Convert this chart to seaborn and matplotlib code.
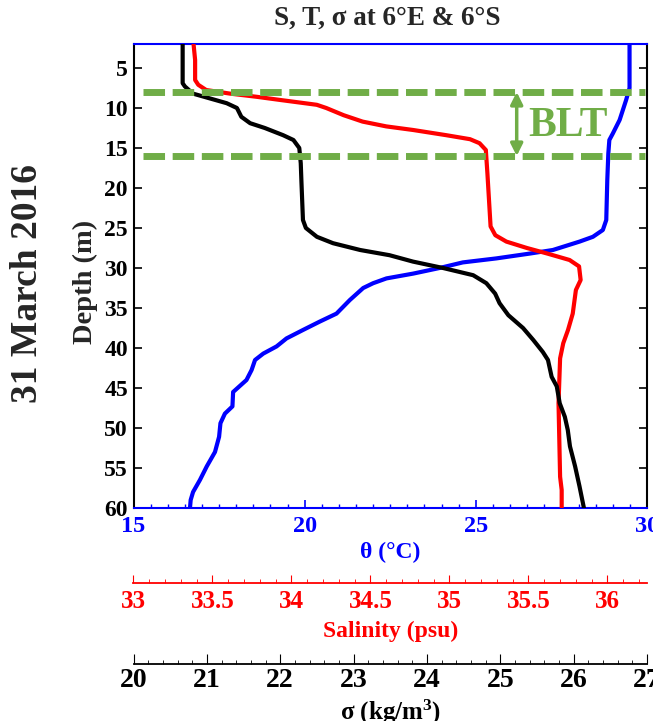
import numpy as np
import pandas as pd
import matplotlib
matplotlib.use("Agg")
import matplotlib.pyplot as plt
import seaborn as sns

# ---------------- data ----------------
depth_T = [2, 7.5, 9.0, 11.5, 13.2, 14.0, 15.7, 19.0, 24.0, 25.25, 26.1, 26.7, 27.75,
           28.2, 28.8, 29.3, 30.0, 30.7, 31.3, 31.9, 32.5, 34.0, 35.7, 36.7, 37.75,
           38.8, 39.8, 40.7, 41.5, 42.75, 44.0, 45.5, 47.3, 48.2, 49.4, 51.1, 53.0,
           54.8, 56.5, 58.0, 59.0, 60]
temperature = [29.49, 29.49, 29.39, 29.20, 29.00, 28.90, 28.87, 28.84, 28.81, 28.71,
               28.42, 28.03, 27.25, 26.57, 25.60, 24.62, 23.94, 23.17, 22.39, 22.00,
               21.71, 21.32, 20.93, 20.44, 19.95, 19.47, 19.18, 18.79, 18.55, 18.45,
               18.30, 17.91, 17.89, 17.67, 17.54, 17.50, 17.38, 17.14, 16.94, 16.74,
               16.67, 16.65]

depth_S = [2, 4, 6.5, 7.1, 7.75, 8.2, 8.6, 9.0, 9.6, 10.0, 10.9, 11.7, 12.3, 12.75,
           13.4, 13.9, 14.4, 15.25, 18.2, 21.5, 24.8, 25.9, 26.7, 27.5, 28.2, 29.0,
           29.8, 31.5, 32.75, 35.7, 37.75, 39.4, 41.3, 46.9, 56.1, 57.75, 60]
salinity = [33.38, 33.39, 33.39, 33.41, 33.46, 33.61, 33.78, 33.93, 34.16, 34.22,
            34.33, 34.45, 34.60, 34.77, 34.98, 35.13, 35.19, 35.23, 35.24, 35.25,
            35.26, 35.29, 35.36, 35.49, 35.62, 35.76, 35.82, 35.83, 35.80, 35.78,
            35.75, 35.72, 35.70, 35.69, 35.70, 35.71, 35.71]

depth_sig = [2, 6.9, 7.3, 8.2, 8.8, 9.4, 10.0, 11.1, 11.9, 12.5, 13.4, 14.0, 15.0,
             16.9, 19.4, 24.0, 25.0, 26.1, 26.9, 27.75, 28.4, 29.2, 30.0, 30.9, 31.9,
             33.2, 34.4, 35.9, 37.5, 39.0, 40.5, 41.5, 43.6, 44.8, 46.9, 48.6, 50.25,
             52.3, 54.8, 57.3, 60]
sigma = [20.67, 20.67, 20.70, 20.81, 21.04, 21.27, 21.41, 21.47, 21.59, 21.79, 22.04,
         22.18, 22.26, 22.28, 22.29, 22.31, 22.35, 22.50, 22.72, 23.09, 23.49, 23.81,
         24.22, 24.63, 24.81, 24.93, 24.99, 25.11, 25.31, 25.45, 25.58, 25.65, 25.70,
         25.77, 25.81, 25.88, 25.92, 25.95, 26.02, 26.08, 26.14]

blt_depths = [8, 16]
depth_ticks = list(range(5, 61, 5))
temp_ticks = [15, 20, 25, 30]
sal_ticks = [33, 33.5, 34, 34.5, 35, 35.5, 36]
sal_ticklabels = ["33", "33.5", "34", "34.5", "35", "35.5", "36"]
sig_ticks = [20, 21, 22, 23, 24, 25, 26, 27]

# ---------------- style ----------------
sns.set_style("white")
plt.rcParams["font.family"] = ["Liberation Serif", "DejaVu Serif"]
plt.rcParams["font.weight"] = "bold"
plt.rcParams["axes.labelweight"] = "bold"
plt.rcParams["mathtext.fontset"] = "custom"
plt.rcParams["mathtext.rm"] = "Liberation Serif:bold"
plt.rcParams["mathtext.default"] = "rm"

GREEN = "#70AD47"
W, H = 653, 721
fig = plt.figure(figsize=(W / 100, H / 100), dpi=100)
L, R, T, B = 133.5, 647, 44, 508
ax = fig.add_axes([L / W, 1 - B / H, (R - L) / W, (B - T) / H])

df_T = pd.DataFrame({"depth": depth_T, "T": temperature})
df_S = pd.DataFrame({"depth": depth_S, "S": salinity})
df_sig = pd.DataFrame({"depth": depth_sig, "sig": sigma})

# temperature (main axes)
sns.lineplot(data=df_T, x="T", y="depth", sort=False, estimator=None,
             color="#0000FF", lw=3, ax=ax)
ax.set_xlim(15, 30)
ax.set_ylim(60, 2)
ax.set_xticks(temp_ticks)
ax.set_xticks(np.arange(15, 30.01, 0.5), minor=True)
ax.set_yticks(depth_ticks)
ax.tick_params(axis="x", which="both", direction="in", top=True, bottom=True,
               colors="#0000FF", labelsize=17.5, pad=6)
ax.tick_params(axis="x", which="major", length=6, width=1.2)
ax.tick_params(axis="x", which="minor", length=3, width=1)
ax.tick_params(axis="y", which="major", direction="in", left=True, right=True,
               length=6, width=1.2, labelsize=17, pad=4, colors="black")
for s in ["bottom", "top"]:
    ax.spines[s].set_color("#0000FF")
for s in ["left", "right"]:
    ax.spines[s].set_color("black")
for s in ax.spines.values():
    s.set_linewidth(1.5)
ax.set_xlabel("θ (°C)", color="#0000FF", fontsize=17, labelpad=3)
ax.set_ylabel("")

# salinity axis
ax2 = ax.twiny()
sns.lineplot(data=df_S, x="S", y="depth", sort=False, estimator=None,
             color="#FF0000", lw=3, ax=ax2)
ax2.set_xlim(33, 36.25)
ax2.set_ylim(60, 2)
ax2.xaxis.set_ticks_position("bottom")
ax2.xaxis.set_label_position("bottom")
ax2.spines["bottom"].set_position(("outward", 54))
for s in ["top", "left", "right"]:
    ax2.spines[s].set_visible(False)
ax2.spines["bottom"].set_color("#FF0000")
ax2.spines["bottom"].set_linewidth(1.3)
ax2.set_xticks(sal_ticks)
ax2.set_xticklabels(sal_ticklabels)
ax2.set_xticks(np.arange(33, 36.26, 0.1), minor=True)
ax2.tick_params(axis="x", which="both", direction="in", colors="#FF0000",
                labelsize=18, pad=5)
ax2.tick_params(axis="x", which="major", length=6)
ax2.tick_params(axis="x", which="minor", length=3)
ax2.set_xlabel("Salinity (psu)", color="#FF0000", fontsize=17, labelpad=6)
ax2.set_ylabel("")
ax2.tick_params(axis="y", left=False, right=False, labelleft=False, labelright=False)

# sigma axis
ax3 = ax.twiny()
sns.lineplot(data=df_sig, x="sig", y="depth", sort=False, estimator=None,
             color="black", lw=3, ax=ax3)
ax3.set_xlim(20, 27)
ax3.set_ylim(60, 2)
ax3.xaxis.set_ticks_position("bottom")
ax3.xaxis.set_label_position("bottom")
ax3.spines["bottom"].set_position(("outward", 112))
for s in ["top", "left", "right"]:
    ax3.spines[s].set_visible(False)
ax3.spines["bottom"].set_color("black")
ax3.spines["bottom"].set_linewidth(1.3)
ax3.set_xticks(sig_ticks)
ax3.set_xticks(np.arange(20, 27.01, 0.2), minor=True)
ax3.tick_params(axis="x", which="both", direction="in", colors="black",
                labelsize=20, pad=3)
ax3.tick_params(axis="x", which="major", length=7)
ax3.tick_params(axis="x", which="minor", length=3)
ax3.set_xlabel(r"σ (kg/m$^{3}$)", color="black", fontsize=18, labelpad=3.5)
ax3.set_ylabel("")
ax3.tick_params(axis="y", left=False, right=False, labelleft=False, labelright=False)

# BLT markers
x0 = (143.3 - L) / (R - L)
x1 = (645 - L) / (R - L)
for d in blt_depths:
    ax3.axhline(d, xmin=x0, xmax=x1, color=GREEN, lw=5, dashes=(3.1, 1.1),
                solid_capstyle="butt", dash_capstyle="butt")
xa = (516.7 - L) / (R - L)
trans = ax3.get_yaxis_transform()
ax3.annotate("", xy=(xa, blt_depths[0]), xytext=(xa, blt_depths[1]),
             xycoords=trans, textcoords=trans,
             arrowprops=dict(arrowstyle="<|-|>", color=GREEN, lw=2.5,
                             mutation_scale=18, shrinkA=0, shrinkB=0))
ax3.text((528 - L) / (R - L), 12.2, "BLT", transform=trans, color=GREEN,
         fontsize=30, fontweight="bold", ha="left", va="center")

# titles / side labels
fig.text(387 / W, 1 - 18 / H, "S, T, σ at 6°E & 6°S", ha="center", va="center",
         fontsize=19.5, fontweight="bold")
fig.text(85 / W, 1 - 282 / H, "Depth (m)", rotation=90, ha="center", va="center",
         fontsize=20.5, fontweight="bold")
fig.text(28 / W, 1 - 283 / H, "31 March 2016", rotation=90, ha="center", va="center",
         fontsize=27, fontweight="bold")

fig.savefig("out.png", dpi=100)
